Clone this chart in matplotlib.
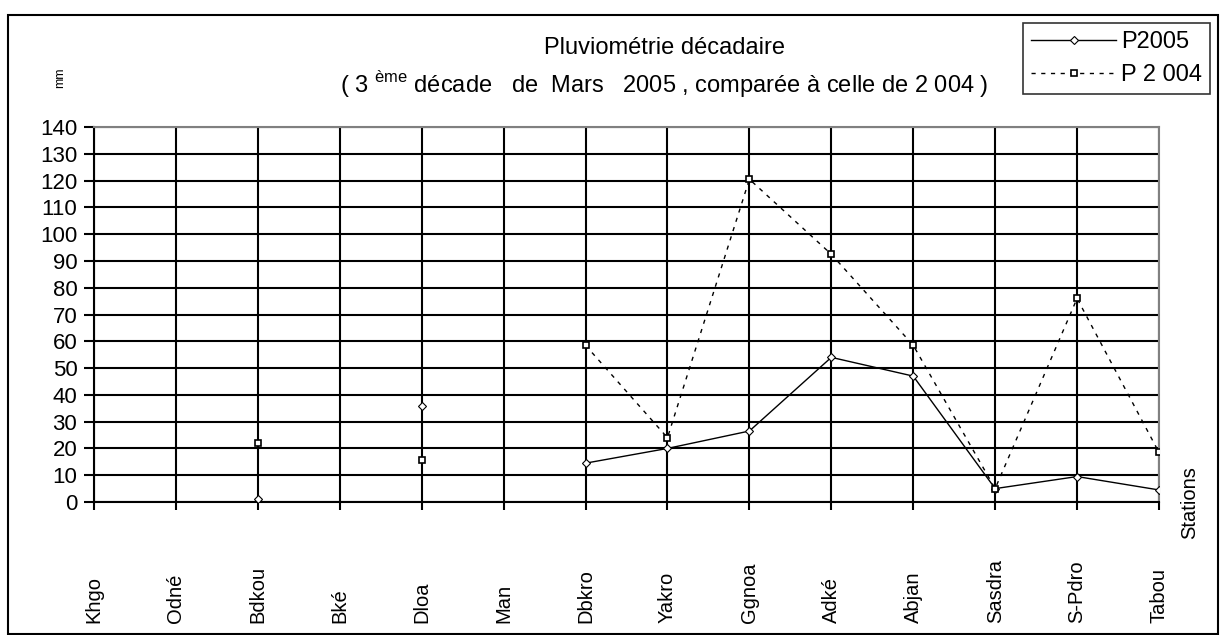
import numpy as np
import matplotlib.pyplot as plt
from matplotlib.patches import Rectangle

plt.rcParams['font.family'] = ['Liberation Sans', 'DejaVu Sans']
plt.rcParams['mathtext.fontset'] = 'custom'
plt.rcParams['mathtext.rm'] = 'Liberation Sans'

# stations (abréviations) et pluies décadaires en mm
stations = ['Khgo', 'Odné', 'Bdkou', 'Bké', 'Dloa', 'Man', 'Dbkro', 'Yakro',
            'Ggnoa', 'Adké', 'Abjan', 'Sasdra', 'S-Pdro', 'Tabou']
p2005 = [np.nan, np.nan, 1, np.nan, 36, np.nan, 14.5, 20, 26.5, 54, 47, 5, 9.5, 4.5]
p2004 = [np.nan, np.nan, 22, np.nan, 15.5, np.nan, 58.5, 24, 120.5, 92.5, 58.5, 5, 76, 18.5]
y_ticks = list(range(0, 141, 10))

fig = plt.figure(figsize=(12.2, 6.35), dpi=100)
# cadre autour de toute la figure
fig.patches.append(Rectangle((8 / 1220, 0.002), 1210 / 1220, 1 - 15 / 635 - 0.002,
                             transform=fig.transFigure, fill=False,
                             edgecolor='black', linewidth=1.5))

ax = fig.add_axes([94 / 1220, 1 - 502 / 635, (1159 - 94) / 1220, (502 - 127) / 635])
x = np.arange(len(stations))

ax.plot(x, p2005, color='black', linewidth=1, marker='D', markersize=4,
        markerfacecolor='white', markeredgecolor='black', markeredgewidth=0.8,
        label='P2005', zorder=3)
ax.plot(x, p2004, color='black', linewidth=1, linestyle=(0, (3, 4)), marker='s',
        markersize=5, markerfacecolor='white', markeredgecolor='black',
        markeredgewidth=1.2, label='P 2 004', zorder=3)

ax.set_xlim(0, len(stations) - 1)
ax.set_ylim(0, 140)
ax.set_yticks(y_ticks)
ax.set_yticklabels([str(v) for v in y_ticks], fontsize=16)
ax.set_xticks(x)
ax.set_xticklabels(stations, rotation=90, fontsize=14.5)
ax.tick_params(axis='x', length=6, width=1.5, pad=0, direction='out')
ax.tick_params(axis='y', length=7, width=1.5, pad=5, direction='out')
# noms des stations alignés en bas du cadre
for lab in ax.get_xticklabels():
    lab.set_va('bottom')
    lab.set_y(-0.3)

ax.grid(True, color='black', linewidth=1.5)
ax.set_axisbelow(True)
for side in ['top', 'right']:
    ax.spines[side].set_color('gray')
    ax.spines[side].set_linewidth(1.5)
for side in ['left', 'bottom']:
    ax.spines[side].set_linewidth(1.5)

fig.text(665 / 1220, 1 - 48 / 635, 'Pluviométrie décadaire', ha='center',
         va='center', fontsize=17)
fig.text(664 / 1220, 1 - 85 / 635,
         '( 3 $^{\\mathrm{ème}}$ décade   de  Mars   2005 , comparée à celle de 2 004 )',
         ha='center', va='center', fontsize=17)
fig.text(60 / 1220, 1 - 78 / 635, 'mm', rotation=90, ha='center', va='center',
         fontsize=9)
fig.text(1190 / 1220, 1 - 503 / 635, 'Stations', rotation=90, ha='center',
         va='center', fontsize=14.5)

leg = fig.legend(loc='upper right', bbox_to_anchor=(1210 / 1220, 1 - 23 / 635),
                 fontsize=17, frameon=True, fancybox=False, handlelength=3.6,
                 handletextpad=0.2, borderpad=0.35, labelspacing=0.45,
                 borderaxespad=0)
leg.get_frame().set_edgecolor('black')
leg.get_frame().set_linewidth(1.2)

fig.savefig('out.png', dpi=100)
